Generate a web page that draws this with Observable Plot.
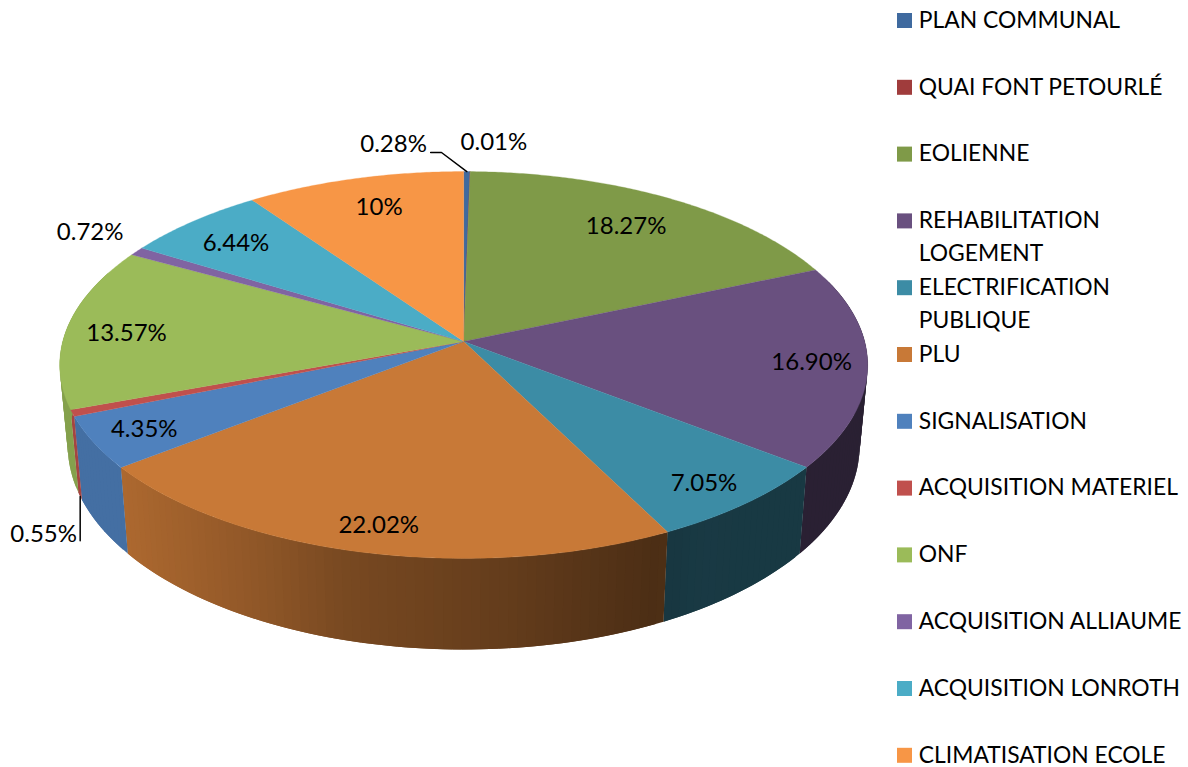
<!DOCTYPE html>
<html>
<head>
<meta charset="utf-8">
<script src="https://cdn.jsdelivr.net/npm/d3@7"></script>
<script src="https://cdn.jsdelivr.net/npm/@observablehq/plot@0.6"></script>
<style>
html,body{margin:0;padding:0;background:#fff}
svg{display:block}
</style>
</head>
<body>
<div id="chart"></div>
<script>
// ---- chart values ----
const categories = ["PLAN COMMUNAL","QUAI FONT PETOURLÉ","EOLIENNE","REHABILITATION\nLOGEMENT","ELECTRIFICATION\nPUBLIQUE","PLU","SIGNALISATION","ACQUISITION MATERIEL","ONF","ACQUISITION ALLIAUME","ACQUISITION LONROTH","CLIMATISATION ECOLE"];
const values = [0.28,0.01,18.27,16.90,7.05,22.02,4.35,0.55,13.57,0.72,6.44,9.84];
const valueLabels = ["0.28%","0.01%","18.27%","16.90%","7.05%","22.02%","4.35%","0.55%","13.57%","0.72%","6.44%","10%"];
const colors = ["#3F6A9F","#A03C3C","#7F9A48","#69507F","#3C8CA5","#C87937","#4F81BD","#C0504D","#9BBB59","#8064A2","#4BACC6","#F79646"];

// ---- label placement, in the pie's own polar terms ----
const labelRadius = [1.199,1.199,0.785,0.863,0.876,0.885,0.871,1.296,0.846,1.177,0.816,0.802];
const labelTurn   = [-10.1,3.1,-0.1,0.1,0.8,-0.3,-0.1,-22.9,-1.6,1.6,-0.9,1.0];

// ---- perspective view of the pie ----
const view = {cx:463.2, k:-0.1214, top:{cy:341, a:401, b:190.6}, bottom:{cy:420.5, a:393, b:200.8}};
const rad = d => d * Math.PI / 180;
function project(deg, r = 1, face = view.top) {
  const x = r * Math.sin(rad(deg)), y = -r * Math.cos(rad(deg));
  const w = 1 + view.k * y;
  return {x: view.cx + face.a * x / w, y: face.cy + face.b * y / w};
}
const total = d3.sum(values);
const cum = d3.cumsum(values);
const slices = values.map((v, i) => ({
  i, name: categories[i], color: colors[i],
  start: (cum[i] - v) / total * 360, end: cum[i] / total * 360,
  get mid() { return (this.start + this.end) / 2; }
}));

// top faces
const topFaces = slices.flatMap(s => {
  const n = Math.max(2, Math.ceil((s.end - s.start) / 0.5));
  const pts = [{...project(0, 0), id: s.i, color: s.color}];
  for (let j = 0; j <= n; j++) {
    pts.push({...project(s.start + (s.end - s.start) * j / n), id: s.i, color: s.color});
  }
  pts.push({...project(0, 0), id: s.i, color: s.color});
  return pts;
});

// side wall, shaded along its horizontal position; each band runs under the next
const shade = d3.scaleLinear().domain([121,250,340,500,650,700,868]).range([0.86,0.72,0.6,0.5,0.38,0.41,0.40]).clamp(true);
const sideQuads = [];
let qid = 0;
for (const s of slices) {
  const lo = Math.max(s.start, 70), hi = Math.min(s.end, 292);
  if (hi <= lo) continue;
  const n = Math.ceil((hi - lo) / 1.2);
  for (let j = 0; j < n; j++) {
    const a = lo + (hi - lo) * j / n;
    const b = j === n - 1 ? hi : lo + (hi - lo) * (j + 2) / n;
    const t0 = project(a), t1 = project(b), b1 = project(b, 1, view.bottom), b0 = project(a, 1, view.bottom);
    const c = d3.rgb(s.color);
    const f = shade((t0.x + t1.x) / 2);
    const col = d3.rgb(c.r * f, c.g * f, c.b * f).formatHex();
    for (const p of [t0, t1, b1, b0, t0]) sideQuads.push({...p, id: qid, color: col});
    qid++;
  }
}

// value labels
const labels = slices.map(s => ({...project(s.mid + labelTurn[s.i], labelRadius[s.i]), text: valueLabels[s.i]}));

// leader lines
const leaders = [
  [project(slices[0].mid + -5.25, 1.131), project(slices[0].mid + -3.7, 1.129), project(slices[0].mid, 1)],
  [project(slices[7].mid, 1, view.bottom), project(slices[7].mid - 26.5, 1.2573)]
].flatMap((pts, id) => pts.map(p => ({...p, id})));

// legend
const legendFirstRow = 20, legendStep = 66.8, legendLine = 33;
const legendSwatches = categories.map((name, i) => ({
  y1: legendFirstRow + 0.5 + i * legendStep - 7.5, y2: legendFirstRow + 0.5 + i * legendStep + 7.5, color: colors[i]
}));
const legendTexts = categories.flatMap((name, i) =>
  name.split("\n").map((line, j) => ({line, y: legendFirstRow + i * legendStep + j * legendLine}))
);

const font = "Lato";
const chart = Plot.plot({
  width: 1188, height: 767,
  margin: 0,
  x: {domain: [0, 1188], range: [0, 1188], axis: null},
  y: {domain: [0, 767], range: [0, 767], axis: null},
  color: {type: "identity"},
  style: {background: "#fff", fontFamily: font},
  marks: [
    Plot.line(sideQuads, {x: "x", y: "y", z: "id", fill: "color", curve: "linear"}),
    Plot.line(topFaces, {x: "x", y: "y", z: "id", fill: "color", stroke: "color", strokeWidth: 0.3, curve: "linear"}),
    Plot.line(leaders, {x: "x", y: "y", z: "id", stroke: "#000", strokeWidth: 1.5, curve: "linear"}),
    Plot.text(labels, {x: "x", y: "y", text: "text", fill: "#000", fontSize: 24, fontFamily: font}),
    Plot.rect(legendSwatches, {x1: () => 897, x2: () => 912, y1: "y1", y2: "y2", fill: "color"}),
    Plot.text(legendTexts, {x: () => 918.3, y: "y", text: "line", textAnchor: "start", fill: "#000", fontSize: 22.85, fontFamily: font})
  ]
});
document.getElementById("chart").appendChild(chart);
</script>
</body>
</html>
